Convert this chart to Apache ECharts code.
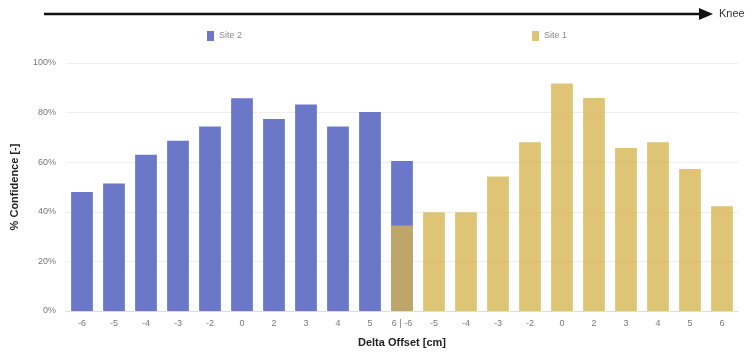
<!DOCTYPE html>
<html>
<head>
<meta charset="utf-8">
<script src="https://cdn.jsdelivr.net/npm/echarts@6/dist/echarts.min.js"></script>
<style>html,body{margin:0;padding:0;background:#fff;}#c{width:755px;height:353px;}</style>
</head>
<body>
<div id="c"></div>
<script>
const categories = ['-6','-5','-4','-3','-2','0','2','3','4','5','6 | -6','-5','-4','-3','-2','0','2','3','4','5','6'];
const site2 = [48, 51.4, 63, 68.6, 74.4, 85.8, 77.4, 83.3, 74.4, 80.2, 60.5, null, null, null, null, null, null, null, null, null, null];
const site1 = [null, null, null, null, null, null, null, null, null, null, 34.5, 39.8, 39.8, 54.2, 68, 91.7, 85.9, 65.7, 68, 57.3, 42.2];
const yTicks = [0, 20, 40, 60, 80, 100];

const chart = echarts.init(document.getElementById('c'));
const font = 'Liberation Sans, Arial, sans-serif';
chart.setOption({
  animation: false,
  textStyle: { fontFamily: font },
  grid: { left: 66, right: 17, top: 63, bottom: 40 },
  legend: [
    { data: ['Site 2'], icon: 'rect', left: 202, top: 26, itemWidth: 7, itemHeight: 10, textStyle: { fontSize: 9, color: '#888', fontFamily: font } },
    { data: ['Site 1'], icon: 'rect', left: 527, top: 26, itemWidth: 7, itemHeight: 10, textStyle: { fontSize: 9, color: '#888', fontFamily: font } }
  ],
  xAxis: {
    type: 'category',
    data: categories,
    name: 'Delta Offset [cm]',
    nameLocation: 'middle',
    nameGap: 26,
    nameTextStyle: { fontSize: 11, fontWeight: 'bold', color: '#222' },
    axisTick: { show: false },
    axisLine: { lineStyle: { color: '#ddd' } },
    axisLabel: { fontSize: 9, color: '#777', margin: 8, interval: 0 }
  },
  yAxis: {
    type: 'value',
    min: yTicks[0],
    max: yTicks[yTicks.length - 1],
    interval: 20,
    name: '% Confidence [-]',
    nameLocation: 'middle',
    nameGap: 46,
    nameTextStyle: { fontSize: 11, fontWeight: 'bold', color: '#222' },
    axisLabel: { formatter: '{value}%', fontSize: 9, color: '#777', margin: 10 },
    splitLine: { lineStyle: { color: '#eee' } },
    axisLine: { show: false },
    axisTick: { show: false }
  },
  series: [
    { name: 'Site 2', type: 'bar', data: site2, barWidth: '68%', barGap: '-100%', itemStyle: { color: '#6b78c9' } },
    { name: 'Site 1', type: 'bar', data: site1, barWidth: '68%', barGap: '-100%', itemStyle: { color: '#d7b24c', opacity: 0.77 } }
  ],
  graphic: [
    { type: 'line', shape: { x1: 44, y1: 14, x2: 702, y2: 14 }, style: { stroke: '#111', lineWidth: 2.5 } },
    { type: 'polygon', shape: { points: [[699, 8], [713, 14], [699, 20]] }, style: { fill: '#111' } },
    { type: 'text', left: 719, top: 8, style: { text: 'Knee', fontSize: 11, fill: '#333', fontFamily: font } }
  ]
});
</script>
</body>
</html>
